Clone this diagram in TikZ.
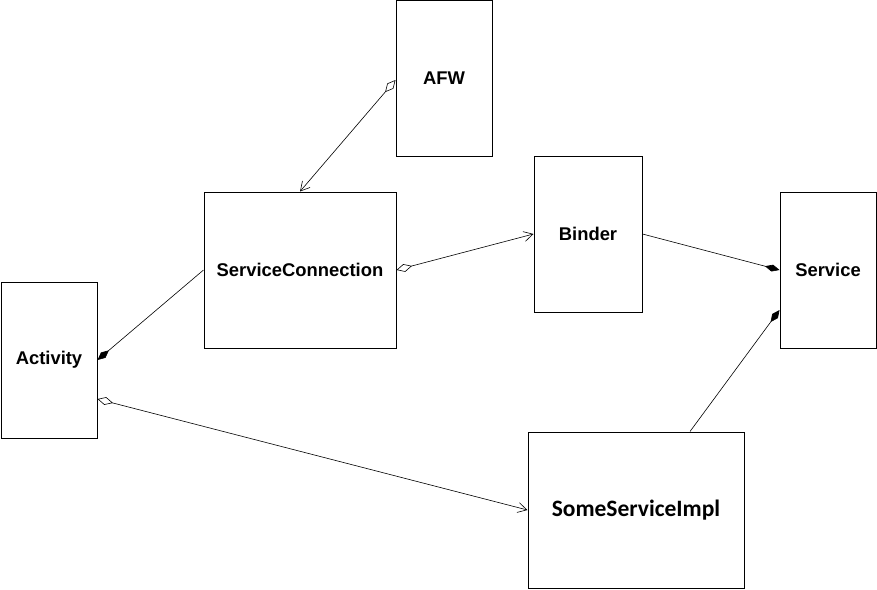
\documentclass[tikz,border=0pt]{standalone}
\usepackage{fontspec}
\setmainfont{Liberation Sans}
\newfontfamily\implfont{Carlito}
\usetikzlibrary{arrows.meta,positioning}

\begin{document}
\begin{tikzpicture}[
  cls/.style={draw,line width=1pt,minimum width=#1,minimum height=156pt,
              inner sep=0pt,font=\fontsize{18.4}{22}\selectfont\bfseries},
  cls/.default=96pt,
  agg/.style={{Diamond[open,length=16pt,width=8pt]}-{Straight Barb[length=9pt,width=10pt]},
              line width=0.6pt},
  comp/.style={{Diamond[length=15pt,width=7pt]}-,line width=0.6pt},
  x=1pt,y=1pt
]
\useasboundingbox (0,0) rectangle (877,-589);

\node[cls]           (afw)      at (444,-78.5) {AFW};
\node[cls=192pt]     (conn)     at (300,-270)  {ServiceConnection};
\node[cls=108pt]     (binder)   at (588,-234)  {Binder};
\node[cls]           (service)  at (828,-270)  {Service};
\node[cls]           (activity) at (49,-360)   {Activity};
\node[cls=216pt,font=\fontsize{23.5}{28}\selectfont\implfont\bfseries]
                     (impl)     at (636,-510)  {SomeServiceImpl};

% aggregations
\draw[agg] ([yshift=-1.5pt]afw.west) -- (conn.north);
\draw[agg] (conn.east) -- (binder.west);
\draw[agg] ([yshift=-39pt]activity.east) -- (impl.west);

% compositions
\draw[comp] (service.west) -- (binder.east);
\draw[comp] ([yshift=-40pt]service.west) -- ([xshift=54pt]impl.north);
\draw[comp] (activity.east) -- (conn.west);
\end{tikzpicture}
\end{document}
